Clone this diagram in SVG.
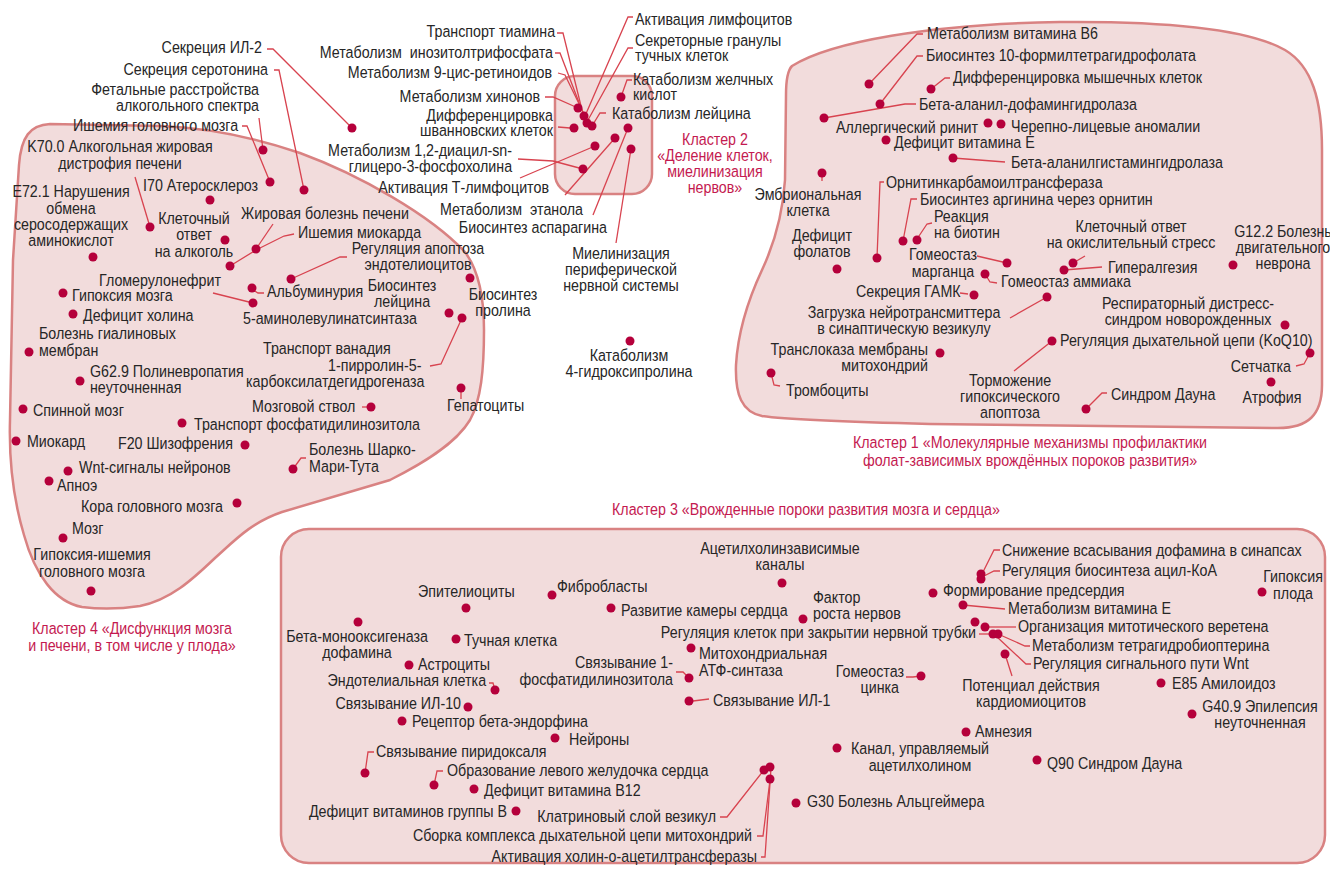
<svg xmlns="http://www.w3.org/2000/svg" width="1330" height="873" viewBox="0 0 1330 873">
<style>
.t{font-family:"Liberation Sans",Arial,sans-serif;font-size:16.5px;fill:#262626;transform-box:fill-box;transform-origin:left center;transform:scaleX(0.865)}
.m{text-anchor:middle;transform-origin:center center}.e{text-anchor:end;transform-origin:right center}
.k{fill:#c41a50}
.d{fill:#b5003b}
.l{fill:none;stroke:#d8434f;stroke-width:1.3}
.b{fill:#f2dcdc;stroke:#d98282;stroke-width:2.5}
</style>
<rect width="1330" height="873" fill="#ffffff"/>
<g id="clusters">
<path id="cluster4" class="b" d="M13,260 L19,165 C21,137 30,125 50,124 L160,126 C215,128 262,140 300,153 C360,175 430,215 465,252 C480,272 484,300 484,330 C484,370 481,400 470,420 C455,445 420,465 390,480 L282,512 C252,522 235,540 215,558 C192,580 170,600 140,606 C120,609 98,609 82,607 C55,602 35,575 24,535 C12,495 9,455 10,420 Z"/>
<rect id="cluster2" class="b" x="555" y="76" width="97" height="118" rx="20"/>
<path id="cluster1" class="b" d="M792,66 C830,42 930,24 1060,22 C1170,21 1250,30 1285,50 C1312,66 1322,100 1322,150 L1322,385 C1322,415 1308,428 1278,428 L930,424 C850,422 790,420 762,416 C742,412 735,395 736,365 C738,330 748,300 762,270 C776,240 783,210 785,180 L786,95 C786,80 788,70 792,66 Z"/>
<rect id="cluster3" class="b" x="281" y="529" width="1044" height="334" rx="28"/>
</g>
<g id="connectors">
<polyline class="l" points="267,49 273,49 352,128"/>
<polyline class="l" points="274,70 279,70 304,190"/>
<polyline class="l" points="259,118 263,150"/>
<polyline class="l" points="242,126 247,126 270,182"/>
<polyline class="l" points="135,177 150,227"/>
<polyline class="l" points="273,224 256,249"/>
<polyline class="l" points="294,234 284,236 256,250 230,266"/>
<polyline class="l" points="347,257 340,257 291,279"/>
<polyline class="l" points="213,293 253,303"/>
<polyline class="l" points="253,290 258,293 264,293"/>
<polyline class="l" points="462,318 441,364 430,366"/>
<polyline class="l" points="362,407 368,407"/>
<polyline class="l" points="461,392 461,399"/>
<polyline class="l" points="293,469 301,458 306,458"/>
<polyline class="l" points="557,33 563,33 582,110"/>
<polyline class="l" points="555,53 560,53 583,113"/>
<polyline class="l" points="558,73 565,75 585,116"/>
<polyline class="l" points="545,97 553,97 578,108"/>
<polyline class="l" points="558,127 570,128"/>
<polyline class="l" points="633,17 628,17 585,116"/>
<polyline class="l" points="633,48 628,48 588,120"/>
<polyline class="l" points="632,80 627,80 621,97"/>
<polyline class="l" points="606,113 600,113 592,126"/>
<polyline class="l" points="518,159 553,161 583,169"/>
<polyline class="l" points="520,178 595,146"/>
<polyline class="l" points="565,195 615,138"/>
<polyline class="l" points="593,215 628,128"/>
<polyline class="l" points="631,149 616,243"/>
<polyline class="l" points="923,34 917,34 869,84"/>
<polyline class="l" points="923,56 917,56 880,104"/>
<polyline class="l" points="950,78 945,78 931,89"/>
<polyline class="l" points="916,104 905,104 824,118"/>
<polyline class="l" points="953,158 1005,162"/>
<polyline class="l" points="822,173 822,181"/>
<polyline class="l" points="884,182 880,182 877,258"/>
<polyline class="l" points="917,199 911,199 903,241"/>
<polyline class="l" points="932,223 927,224 917,239"/>
<polyline class="l" points="977,256 1007,263"/>
<polyline class="l" points="985,274 990,282 997,283"/>
<polyline class="l" points="960,293 968,294"/>
<polyline class="l" points="1010,318 1047,297"/>
<polyline class="l" points="1073,263 1085,256"/>
<polyline class="l" points="1064,270 1102,267"/>
<polyline class="l" points="1052,341 1014,371"/>
<polyline class="l" points="1086,409 1102,393 1107,393"/>
<polyline class="l" points="771,373 774,385 780,386"/>
<polyline class="l" points="1310,353 1304,364 1296,366"/>
<polyline class="l" points="1000,550 994,550 982,574"/>
<polyline class="l" points="1000,571 994,571 984,576"/>
<polyline class="l" points="963,605 1005,609"/>
<polyline class="l" points="1016,627 985,627"/>
<polyline class="l" points="979,634 993,634"/>
<polyline class="l" points="1030,646 1025,646 998,634"/>
<polyline class="l" points="1031,664 1026,664 996,636"/>
<polyline class="l" points="1005,654 1012,676"/>
<polyline class="l" points="676,672 683,672 689,678"/>
<polyline class="l" points="693,701 709,699"/>
<polyline class="l" points="906,677 913,677 921,676"/>
<polyline class="l" points="489,683 493,683 495,690"/>
<polyline class="l" points="374,752 368,752 365,773"/>
<polyline class="l" points="443,771 437,771 434,785"/>
<polyline class="l" points="720,817 727,817 764,770"/>
<polyline class="l" points="757,836 763,836 770,780"/>
<polyline class="l" points="761,857 765,857 771,768"/>
</g>
<g id="nodes-c4">
<g id="n-il2"><circle class="d" cx="352" cy="128" r="4.5"/><text class="t e" x="262" y="53">Секреция ИЛ-2</text></g>
<g id="n-sero"><circle class="d" cx="304" cy="190" r="4.5"/><text class="t e" x="268" y="75">Секреция серотонина</text></g>
<g id="n-fetal"><circle class="d" cx="263" cy="150" r="4.5"/><text class="t e" x="259" y="95">Фетальные расстройства</text><text class="t e" x="259" y="111">алкогольного спектра</text></g>
<g id="n-ishgm"><circle class="d" cx="270" cy="182" r="4.5"/><text class="t e" x="238" y="131">Ишемия головного мозга</text></g>
<g id="n-k70"><circle class="d" cx="150" cy="227" r="4.5"/><text class="t m" x="120" y="152">K70.0 Алкогольная жировая</text><text class="t m" x="120" y="169">дистрофия печени</text></g>
<g id="n-e72"><circle class="d" cx="93" cy="257" r="4.5"/><text class="t m" x="71" y="197">E72.1 Нарушения</text><text class="t m" x="71" y="214">обмена</text><text class="t m" x="71" y="230">серосодержащих</text><text class="t m" x="71" y="246">аминокислот</text></g>
<g id="n-i70"><circle class="d" cx="210" cy="200" r="4.5"/><text class="t" x="143" y="191">I70 Атеросклероз</text></g>
<g id="n-klalc"><circle class="d" cx="225" cy="240" r="4.5"/><text class="t m" x="194" y="224">Клеточный</text><text class="t m" x="194" y="240">ответ</text><text class="t m" x="194" y="257">на алкоголь</text></g>
<g id="n-zhir"><circle class="d" cx="256" cy="249" r="4.5"/><text class="t" x="241" y="219">Жировая болезнь печени</text></g>
<g id="n-ishm"><circle class="d" cx="230" cy="266" r="4.5"/><text class="t" x="298" y="238">Ишемия миокарда</text></g>
<g id="n-apop"><circle class="d" cx="291" cy="279" r="4.5"/><text class="t m" x="418" y="254">Регуляция апоптоза</text><text class="t m" x="418" y="270">эндотелиоцитов</text></g>
<g id="n-glom"><circle class="d" cx="253" cy="303" r="4.5"/><text class="t" x="99" y="286">Гломерулонефрит</text></g>
<g id="n-alb"><circle class="d" cx="252" cy="288" r="4.5"/><text class="t" x="267" y="297">Альбуминурия</text></g>
<g id="n-5ala"><text class="t" x="243" y="324">5-аминолевулинатсинтаза</text></g>
<g id="n-hypm"><circle class="d" cx="63" cy="293" r="4.5"/><text class="t" x="72" y="301">Гипоксия мозга</text></g>
<g id="n-chol"><circle class="d" cx="73" cy="314" r="4.5"/><text class="t" x="83" y="321">Дефицит холина</text></g>
<g id="n-gial"><circle class="d" cx="29" cy="352" r="4.5"/><text class="t" x="39" y="339">Болезнь гиалиновых</text><text class="t" x="39" y="356">мембран</text></g>
<g id="n-g62"><circle class="d" cx="80" cy="381" r="4.5"/><text class="t" x="90" y="377">G62.9 Полиневропатия</text><text class="t" x="90" y="393">неуточненная</text></g>
<g id="n-spin"><circle class="d" cx="23" cy="409" r="4.5"/><text class="t" x="33" y="416">Спинной мозг</text></g>
<g id="n-leu"><circle class="d" cx="449" cy="313" r="4.5"/><text class="t m" x="402" y="291">Биосинтез</text><text class="t m" x="402" y="307">лейцина</text></g>
<g id="n-pro"><circle class="d" cx="470" cy="278" r="4.5"/><text class="t m" x="503" y="300">Биосинтез</text><text class="t m" x="503" y="316">пролина</text></g>
<g id="n-van"><circle class="d" cx="462" cy="318" r="4.5"/><text class="t" x="263" y="354">Транспорт ванадия</text><text class="t" x="328" y="371">1-пирролин-5-</text><text class="t" x="246" y="387">карбоксилатдегидрогеназа</text></g>
<g id="n-stvol"><circle class="d" cx="371" cy="407" r="4.5"/><text class="t" x="252" y="412">Мозговой ствол</text></g>
<g id="n-tfi"><circle class="d" cx="182" cy="423" r="4.5"/><text class="t" x="194" y="430">Транспорт фосфатидилинозитола</text></g>
<g id="n-hep"><circle class="d" cx="461" cy="388" r="4.5"/><text class="t" x="447" y="411">Гепатоциты</text></g>
<g id="n-myo"><circle class="d" cx="16" cy="441" r="4.5"/><text class="t" x="27" y="447">Миокард</text></g>
<g id="n-f20"><circle class="d" cx="245" cy="445" r="4.5"/><text class="t" x="118" y="449">F20 Шизофрения</text></g>
<g id="n-cmt"><circle class="d" cx="293" cy="469" r="4.5"/><text class="t" x="309" y="455">Болезнь Шарко-</text><text class="t" x="309" y="472">Мари-Тута</text></g>
<g id="n-wnt"><circle class="d" cx="68" cy="471" r="4.5"/><text class="t" x="79" y="473">Wnt-сигналы нейронов</text></g>
<g id="n-apnoe"><circle class="d" cx="49" cy="481" r="4.5"/><text class="t" x="57" y="491">Апноэ</text></g>
<g id="n-kora"><circle class="d" cx="237" cy="503" r="4.5"/><text class="t" x="81" y="512">Кора головного мозга</text></g>
<g id="n-mozg"><circle class="d" cx="63" cy="538" r="4.5"/><text class="t" x="72" y="534">Мозг</text></g>
<g id="n-hii"><circle class="d" cx="91" cy="591" r="4.5"/><text class="t m" x="92" y="560">Гипоксия-ишемия</text><text class="t m" x="92" y="577">головного мозга</text></g>
<g id="lbl-c4"><text class="t m k" x="132" y="634">Кластер 4 «Дисфункция мозга</text><text class="t m k" x="132" y="651">и печени, в том числе у плода»</text></g>
</g>
<g id="nodes-c2">
<g id="c2-dots"><circle class="d" cx="578" cy="108" r="4.5"/><circle class="d" cx="584" cy="116" r="4.5"/><circle class="d" cx="587" cy="123" r="4.5"/><circle class="d" cx="592" cy="126" r="4.5"/><circle class="d" cx="574" cy="128" r="4.5"/><circle class="d" cx="595" cy="146" r="4.5"/><circle class="d" cx="615" cy="138" r="4.5"/><circle class="d" cx="628" cy="128" r="4.5"/><circle class="d" cx="631" cy="149" r="4.5"/><circle class="d" cx="583" cy="169" r="4.5"/><circle class="d" cx="621" cy="97" r="4.5"/></g>
<g id="n-tiam"><text class="t e" x="555" y="37">Транспорт тиамина</text></g>
<g id="n-ip3"><text class="t e" x="553" y="58">Метаболизм&#160; инозитолтрифосфата</text></g>
<g id="n-9cis"><text class="t e" x="552" y="78">Метаболизм 9-цис-ретиноидов</text></g>
<g id="n-hin"><text class="t e" x="540" y="102">Метаболизм хинонов</text></g>
<g id="n-schw"><text class="t e" x="553" y="121">Дифференцировка</text><text class="t e" x="553" y="136">шванновских клеток</text></g>
<g id="n-pc"><text class="t e" x="512" y="156">Метаболизм 1,2-диацил-sn-</text><text class="t e" x="512" y="172">глицеро-3-фосфохолина</text></g>
<g id="n-tlim"><text class="t e" x="549" y="193">Активация Т-лимфоцитов</text></g>
<g id="n-eth"><text class="t e" x="583" y="215">Метаболизм&#160; этанола</text></g>
<g id="n-asp"><text class="t e" x="607" y="233">Биосинтез аспарагина</text></g>
<g id="n-lim"><text class="t" x="635" y="25">Активация лимфоцитов</text></g>
<g id="n-gran"><text class="t" x="635" y="46">Секреторные гранулы</text><text class="t" x="635" y="61">тучных клеток</text></g>
<g id="n-bile"><text class="t" x="633" y="85">Катаболизм желчных</text><text class="t" x="633" y="100">кислот</text></g>
<g id="n-leucat"><text class="t" x="612" y="119">Катаболизм лейцина</text></g>
<g id="lbl-c2"><text class="t m k" x="715" y="145">Кластер 2</text><text class="t m k" x="715" y="161">«Деление клеток,</text><text class="t m k" x="715" y="177">миелинизация</text><text class="t m k" x="715" y="193">нервов»</text></g>
<g id="n-myel"><text class="t m" x="621" y="259">Миелинизация</text><text class="t m" x="621" y="275">периферической</text><text class="t m" x="621" y="291">нервной системы</text></g>
<g id="n-hyp"><circle class="d" cx="630" cy="341" r="4.5"/><text class="t m" x="629" y="361">Катаболизм</text><text class="t m" x="629" y="377">4-гидроксипролина</text></g>
</g>
<g id="nodes-c1">
<g id="n-b6"><circle class="d" cx="869" cy="84" r="4.5"/><text class="t" x="927" y="39">Метаболизм витамина B6</text></g>
<g id="n-10f"><circle class="d" cx="880" cy="104" r="4.5"/><text class="t" x="926" y="61">Биосинтез 10-формилтетрагидрофолата</text></g>
<g id="n-musc"><circle class="d" cx="931" cy="89" r="4.5"/><text class="t" x="953" y="83">Дифференцировка мышечных клеток</text></g>
<g id="n-bad"><circle class="d" cx="824" cy="118" r="4.5"/><text class="t" x="919" y="110">Бета-аланил-дофамингидролаза</text></g>
<g id="n-rin"><circle class="d" cx="988" cy="123" r="4.5"/><text class="t" x="836" y="133">Аллергический ринит</text></g>
<g id="n-cran"><circle class="d" cx="1001" cy="124" r="4.5"/><text class="t" x="1011" y="132">Черепно-лицевые аномалии</text></g>
<g id="n-vite1"><circle class="d" cx="886" cy="140" r="4.5"/><text class="t" x="894" y="148">Дефицит витамина E</text></g>
<g id="n-bah"><circle class="d" cx="953" cy="158" r="4.5"/><text class="t" x="1011" y="168">Бета-аланилгистамингидролаза</text></g>
<g id="n-emb"><circle class="d" cx="822" cy="173" r="4.5"/><text class="t m" x="808" y="200">Эмбриональная</text><text class="t m" x="808" y="216">клетка</text></g>
<g id="n-otc"><circle class="d" cx="877" cy="258" r="4.5"/><text class="t" x="886" y="188">Орнитинкарбамоилтрансфераза</text></g>
<g id="n-arg"><circle class="d" cx="903" cy="241" r="4.5"/><text class="t" x="920" y="205">Биосинтез аргинина через орнитин</text></g>
<g id="n-biot"><circle class="d" cx="917" cy="240" r="4.5"/><text class="t" x="934" y="222">Реакция</text><text class="t" x="934" y="238">на биотин</text></g>
<g id="n-fol"><circle class="d" cx="837" cy="269" r="4.5"/><text class="t m" x="822" y="241">Дефицит</text><text class="t m" x="822" y="257">фолатов</text></g>
<g id="n-mn"><circle class="d" cx="1007" cy="263" r="4.5"/><text class="t m" x="943" y="260">Гомеостаз</text><text class="t m" x="943" y="277">марганца</text></g>
<g id="n-nh3"><circle class="d" cx="985" cy="274" r="4.5"/><text class="t" x="1001" y="287">Гомеостаз аммиака</text></g>
<g id="n-gaba"><circle class="d" cx="974" cy="295" r="4.5"/><text class="t" x="856" y="297">Секреция ГАМК</text></g>
<g id="n-load"><circle class="d" cx="1047" cy="297" r="4.5"/><text class="t m" x="904" y="318">Загрузка нейротрансмиттера</text><text class="t m" x="904" y="334">в синаптическую везикулу</text></g>
<g id="n-ox"><circle class="d" cx="1073" cy="263" r="4.5"/><text class="t m" x="1131" y="232">Клеточный ответ</text><text class="t m" x="1131" y="248">на окислительный стресс</text></g>
<g id="n-hyper"><circle class="d" cx="1064" cy="270" r="4.5"/><text class="t" x="1108" y="273">Гипералгезия</text></g>
<g id="n-g12"><circle class="d" cx="1233" cy="265" r="4.5"/><text class="t m" x="1283" y="237">G12.2 Болезнь</text><text class="t m" x="1283" y="253">двигательного</text><text class="t m" x="1283" y="269">неврона</text></g>
<g id="n-rds"><circle class="d" cx="1285" cy="325" r="4.5"/><text class="t m" x="1188" y="309">Респираторный дистресс-</text><text class="t m" x="1188" y="325">синдром новорожденных</text></g>
<g id="n-q10"><circle class="d" cx="1052" cy="341" r="4.5"/><text class="t" x="1060" y="346">Регуляция дыхательной цепи (KoQ10)</text></g>
<g id="n-hapo"><text class="t m" x="1010" y="386">Торможение</text><text class="t m" x="1010" y="402">гипоксического</text><text class="t m" x="1010" y="418">апоптоза</text></g>
<g id="n-down1"><circle class="d" cx="1086" cy="409" r="4.5"/><text class="t" x="1111" y="400">Синдром Дауна</text></g>
<g id="n-trl"><circle class="d" cx="940" cy="353" r="4.5"/><text class="t e" x="928" y="355">Транслоказа мембраны</text><text class="t e" x="928" y="371">митохондрий</text></g>
<g id="n-plt"><circle class="d" cx="771" cy="373" r="4.5"/><text class="t" x="786" y="396">Тромбоциты</text></g>
<g id="n-ret"><circle class="d" cx="1310" cy="353" r="4.5"/><text class="t e" x="1291" y="372">Сетчатка</text></g>
<g id="n-atr"><circle class="d" cx="1271" cy="382" r="4.5"/><text class="t m" x="1272" y="403">Атрофия</text></g>
<g id="lbl-c1"><text class="t m k" x="1030" y="448">Кластер 1 «Молекулярные механизмы профилактики</text><text class="t m k" x="1030" y="466">фолат-зависимых врождённых пороков развития»</text></g>
</g>
<g id="nodes-c3">
<g id="lbl-c3"><text class="t m k" x="806" y="515">Кластер 3 «Врожденные пороки развития мозга и сердца»</text></g>
<g id="n-ach"><circle class="d" cx="782" cy="583" r="4.5"/><text class="t m" x="780" y="554">Ацетилхолинзависимые</text><text class="t m" x="780" y="570">каналы</text></g>
<g id="n-epi"><circle class="d" cx="466" cy="608" r="4.5"/><text class="t" x="418" y="597">Эпителиоциты</text></g>
<g id="n-fib"><circle class="d" cx="552" cy="595" r="4.5"/><text class="t" x="557" y="592">Фибробласты</text></g>
<g id="n-kam"><circle class="d" cx="611" cy="608" r="4.5"/><text class="t" x="621" y="616">Развитие камеры сердца</text></g>
<g id="n-ngf"><circle class="d" cx="803" cy="619" r="4.5"/><text class="t" x="813" y="603">Фактор</text><text class="t" x="813" y="619">роста нервов</text></g>
<g id="n-pred"><circle class="d" cx="933" cy="593" r="4.5"/><text class="t" x="943" y="596">Формирование предсердия</text></g>
<g id="n-dop"><circle class="d" cx="981" cy="574" r="4.5"/><text class="t" x="1002" y="556">Снижение всасывания дофамина в синапсах</text></g>
<g id="n-acyl"><circle class="d" cx="981" cy="579" r="4.5"/><text class="t" x="1002" y="576">Регуляция биосинтеза ацил-КоА</text></g>
<g id="n-hypf"><circle class="d" cx="1262" cy="592" r="4.5"/><text class="t m" x="1293" y="582">Гипоксия</text><text class="t m" x="1293" y="599">плода</text></g>
<g id="n-vite3"><circle class="d" cx="963" cy="605" r="4.5"/><text class="t" x="1008" y="614">Метаболизм витамина E</text></g>
<g id="n-dbh"><circle class="d" cx="358" cy="622" r="4.5"/><text class="t m" x="357" y="642">Бета-монооксигеназа</text><text class="t m" x="357" y="658">дофамина</text></g>
<g id="n-mast"><circle class="d" cx="456" cy="639" r="4.5"/><text class="t" x="464" y="646">Тучная клетка</text></g>
<g id="n-tube"><circle class="d" cx="975" cy="622" r="4.5"/><text class="t e" x="976" y="638">Регуляция клеток при закрытии нервной трубки</text></g>
<g id="n-spin2"><circle class="d" cx="985" cy="627" r="4.5"/><text class="t" x="1018" y="632">Организация митотического веретена</text></g>
<g id="n-bh4"><circle class="d" cx="993" cy="634" r="4.5"/><text class="t" x="1032" y="651">Метаболизм тетрагидробиоптерина</text></g>
<g id="n-wnt3"><circle class="d" cx="998" cy="634" r="4.5"/><text class="t" x="1033" y="669">Регуляция сигнального пути Wnt</text></g>
<g id="n-card"><circle class="d" cx="1005" cy="654" r="4.5"/><text class="t m" x="1031" y="691">Потенциал действия</text><text class="t m" x="1031" y="707">кардиомиоцитов</text></g>
<g id="n-atp"><circle class="d" cx="691" cy="648" r="4.5"/><text class="t" x="699" y="659">Митохондриальная</text><text class="t" x="699" y="676">АТФ-синтаза</text></g>
<g id="n-pi"><circle class="d" cx="689" cy="678" r="4.5"/><text class="t e" x="673" y="668">Связывание 1-</text><text class="t e" x="673" y="685">фосфатидилинозитола</text></g>
<g id="n-astro"><circle class="d" cx="409" cy="665" r="4.5"/><text class="t" x="418" y="670">Астроциты</text></g>
<g id="n-endo"><circle class="d" cx="495" cy="690" r="4.5"/><text class="t e" x="486" y="686">Эндотелиальная клетка</text></g>
<g id="n-zn"><circle class="d" cx="921" cy="676" r="4.5"/><text class="t e" x="904" y="677">Гомеостаз</text><text class="t e" x="899" y="693">цинка</text></g>
<g id="n-il10"><circle class="d" cx="468" cy="707" r="4.5"/><text class="t e" x="461" y="709">Связывание ИЛ-10</text></g>
<g id="n-il1"><circle class="d" cx="689" cy="701" r="4.5"/><text class="t" x="713" y="706">Связывание ИЛ-1</text></g>
<g id="n-e85"><circle class="d" cx="1161" cy="683" r="4.5"/><text class="t" x="1172" y="689">E85 Амилоидоз</text></g>
<g id="n-g40"><circle class="d" cx="1192" cy="714" r="4.5"/><text class="t m" x="1260" y="712">G40.9 Эпилепсия</text><text class="t m" x="1260" y="728">неуточненная</text></g>
<g id="n-endor"><circle class="d" cx="402" cy="721" r="4.5"/><text class="t" x="412" y="727">Рецептор бета-эндорфина</text></g>
<g id="n-amn"><circle class="d" cx="966" cy="732" r="4.5"/><text class="t" x="975" y="737">Амнезия</text></g>
<g id="n-neur"><circle class="d" cx="555" cy="738" r="4.5"/><text class="t" x="569" y="745">Нейроны</text></g>
<g id="n-achr"><circle class="d" cx="837" cy="748" r="4.5"/><text class="t m" x="920" y="754">Канал, управляемый</text><text class="t m" x="920" y="771">ацетилхолином</text></g>
<g id="n-q90"><circle class="d" cx="1037" cy="760" r="4.5"/><text class="t" x="1047" y="769">Q90 Синдром Дауна</text></g>
<g id="n-pyr"><circle class="d" cx="365" cy="773" r="4.5"/><text class="t" x="376" y="757">Связывание пиридоксаля</text></g>
<g id="n-lv"><circle class="d" cx="434" cy="785" r="4.5"/><text class="t" x="447" y="776">Образование левого желудочка сердца</text></g>
<g id="n-b12"><circle class="d" cx="474" cy="789" r="4.5"/><text class="t" x="484" y="796">Дефицит витамина B12</text></g>
<g id="n-vb"><circle class="d" cx="516" cy="811" r="4.5"/><text class="t e" x="507" y="817">Дефицит витаминов группы В</text></g>
<g id="n-g30"><circle class="d" cx="796" cy="803" r="4.5"/><text class="t" x="807" y="807">G30 Болезнь Альцгеймера</text></g>
<g id="n-clat"><circle class="d" cx="764" cy="770" r="4.5"/><text class="t e" x="716" y="822">Клатриновый слой везикул</text></g>
<g id="n-resp"><circle class="d" cx="770" cy="779" r="4.5"/><text class="t e" x="752" y="841">Сборка комплекса дыхательной цепи митохондрий</text></g>
<g id="n-chat"><circle class="d" cx="770" cy="767" r="4.5"/><text class="t e" x="757" y="862">Активация холин-о-ацетилтрансферазы</text></g>
</g>
</svg>
